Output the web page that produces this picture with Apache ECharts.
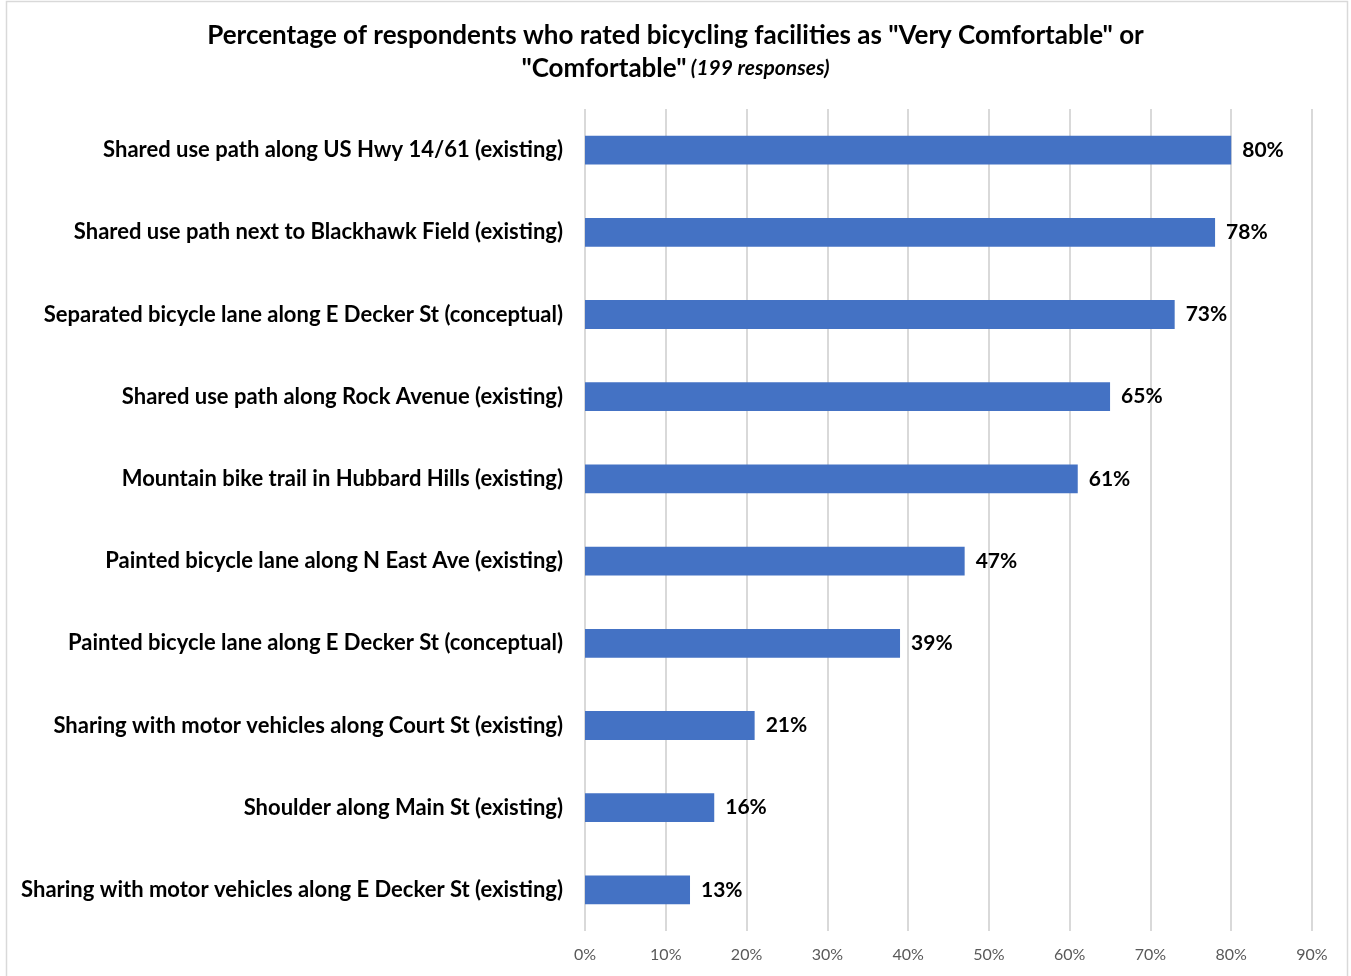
<!DOCTYPE html>
<html>
<head>
<meta charset="utf-8">
<script src="https://cdn.jsdelivr.net/npm/echarts@6/dist/echarts.min.js"></script>
<style>
  html, body { margin: 0; padding: 0; background: #ffffff; }
  #chart { width: 1351px; height: 976px; }
</style>
</head>
<body>
<div id="chart"></div>
<script>
// Facility types, top to bottom
const facilities = [
  'Shared use path along US Hwy 14/61 (existing)',
  'Shared use path next to Blackhawk Field (existing)',
  'Separated bicycle lane along E Decker St (conceptual)',
  'Shared use path along Rock Avenue (existing)',
  'Mountain bike trail in Hubbard Hills (existing)',
  'Painted bicycle lane along N East Ave (existing)',
  'Painted bicycle lane along E Decker St (conceptual)',
  'Sharing with motor vehicles along Court St (existing)',
  'Shoulder along Main St (existing)',
  'Sharing with motor vehicles along E Decker St (existing)'
];

// Share rating "Very Comfortable" or "Comfortable", percent
const comfortablePct = [80, 78, 73, 65, 61, 47, 39, 21, 16, 13];

// Value axis ticks
const axisMin = 0;
const axisMax = 90;
const axisStep = 10;

const FONT = 'Lato, "Open Sans", sans-serif';

const chart = echarts.init(document.getElementById('chart'), null, { renderer: 'canvas' });

chart.setOption({
  animation: false,
  backgroundColor: '#ffffff',
  textStyle: { fontFamily: FONT },
  graphic: [{
    type: 'rect',
    shape: { x: 6.5, y: 1.5, width: 1341, height: 990 },
    style: { fill: 'none', stroke: '#d9d9d9', lineWidth: 1.5 },
    silent: true
  }],
  title: {
    text: '{t|Percentage of respondents who rated bicycling facilities as "Very Comfortable" or}\n{t|"Comfortable"} {s|(199 responses)}',
    left: 'center',
    top: 14,
    textStyle: {
      rich: {
        t: { fontFamily: FONT, fontSize: 26, fontWeight: 'bold', color: '#000000', lineHeight: 33 },
        s: { fontFamily: FONT, fontSize: 21, fontWeight: 'bold', fontStyle: 'italic', color: '#000000', lineHeight: 33 }
      }
    }
  },
  grid: { left: 585, right: 39, top: 109, bottom: 45, containLabel: false },
  xAxis: {
    type: 'value',
    min: axisMin,
    max: axisMax,
    interval: axisStep,
    axisLine: { show: false },
    axisTick: { show: false },
    axisLabel: {
      formatter: v => v + '%',
      color: '#595959',
      fontSize: 16,
      fontFamily: FONT,
      margin: 16
    },
    splitLine: { show: true, lineStyle: { color: '#d9d9d9', width: 2 } }
  },
  yAxis: {
    type: 'category',
    data: facilities,
    inverse: true,
    axisLine: { show: false },
    axisTick: { show: false },
    axisLabel: {
      color: '#000000',
      fontSize: 22,
      fontWeight: 'bold',
      fontFamily: FONT,
      margin: 22
    }
  },
  series: [{
    type: 'bar',
    data: comfortablePct,
    barWidth: '35%',
    itemStyle: { color: '#4472C4' },
    label: {
      show: true,
      position: 'right',
      distance: 11,
      formatter: p => p.value + '%',
      color: '#000000',
      fontSize: 21,
      fontWeight: 'bold',
      fontFamily: FONT
    }
  }]
});
</script>
</body>
</html>
